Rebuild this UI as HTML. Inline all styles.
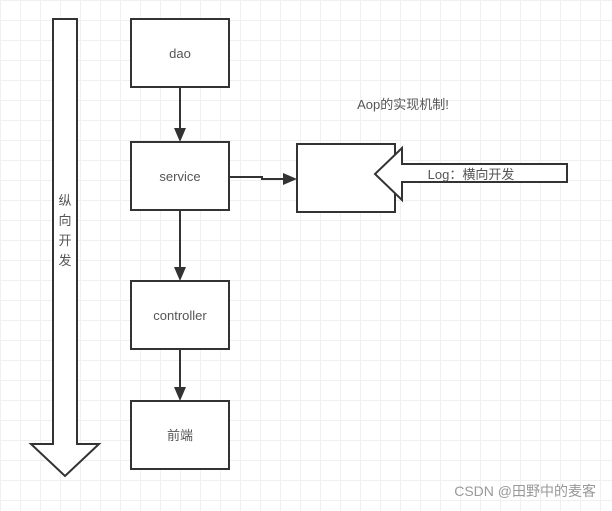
<!DOCTYPE html>
<html><head><meta charset="utf-8"><style>
body{margin:0;width:612px;height:506px;overflow:hidden;background:#fff;
background-image:linear-gradient(#f0f0f0 1px,transparent 1px),linear-gradient(90deg,#f0f0f0 1px,transparent 1px);background-size:20px 20px;}
text{font-family:"Liberation Sans","Noto Sans CJK SC",sans-serif;fill:#555;}
</style></head><body>
<svg width="612" height="506" xmlns="http://www.w3.org/2000/svg">
<g stroke="#333" stroke-width="2" fill="#fff">
<polygon points="53,19 77,19 77,444 99,444 65,476 31,444 53,444"/>
<rect x="131" y="19" width="98" height="68"/>
<rect x="131" y="142" width="98" height="68"/>
<rect x="131" y="281" width="98" height="68"/>
<rect x="131" y="401" width="98" height="68"/>
<rect x="297" y="144" width="98" height="68"/>
<polygon points="567,164 567,182 402,182 402,200 375,174 402,148 402,164"/>
<g fill="none">
<line x1="180" y1="87" x2="180" y2="130"/>
<line x1="180" y1="210" x2="180" y2="269"/>
<line x1="180" y1="349" x2="180" y2="389"/>
<polyline points="229,177 262,177 262,179 285,179"/>
</g>
</g>
<g fill="#333">
<polygon points="174,128 186,128 180,142"/>
<polygon points="174,267 186,267 180,281"/>
<polygon points="174,387 186,387 180,401"/>
<polygon points="283,173 283,185 297,179"/>
</g>
<g font-size="13" text-anchor="middle">
<text x="180" y="58">dao</text>
<text x="180" y="181">service</text>
<text x="180" y="320">controller</text>
<text x="180" y="440">前端</text>
<text x="403" y="109">Aop的实现机制!</text>
<text x="471" y="179">Log：横向开发</text>
<text x="65" y="205">纵</text>
<text x="65" y="225">向</text>
<text x="65" y="245">开</text>
<text x="65" y="265">发</text>
</g>
<text x="596" y="496" font-size="14" text-anchor="end" fill="#888" style="fill:#999">CSDN @田野中的麦客</text>
</svg>
</body></html>
